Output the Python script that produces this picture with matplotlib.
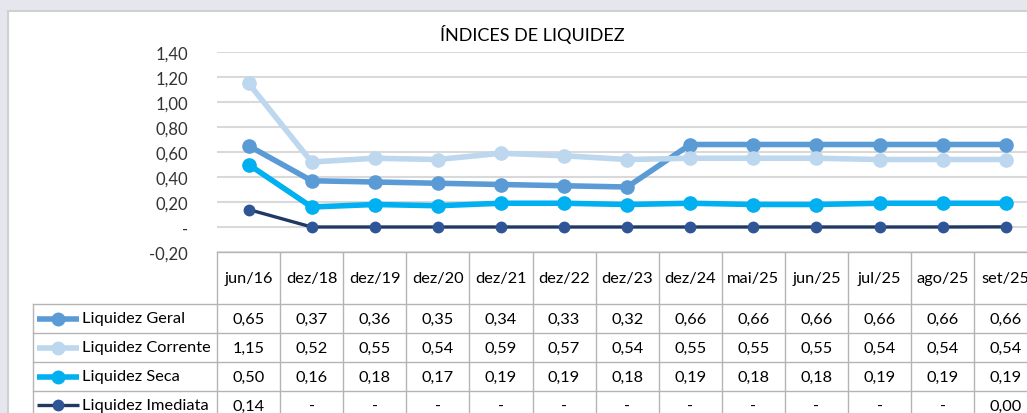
import matplotlib
matplotlib.use('Agg')
import matplotlib.pyplot as plt
from matplotlib.patches import Rectangle

plt.rcParams['font.family'] = ['Lato', 'DejaVu Sans']

categories = ['jun/16', 'dez/18', 'dez/19', 'dez/20', 'dez/21', 'dez/22', 'dez/23',
              'dez/24', 'mai/25', 'jun/25', 'jul/25', 'ago/25', 'set/25']
liq_geral = [0.65, 0.37, 0.36, 0.35, 0.34, 0.33, 0.32, 0.66, 0.66, 0.66, 0.66, 0.66, 0.66]
liq_corrente = [1.15, 0.52, 0.55, 0.54, 0.59, 0.57, 0.54, 0.55, 0.55, 0.55, 0.54, 0.54, 0.54]
liq_seca = [0.50, 0.16, 0.18, 0.17, 0.19, 0.19, 0.18, 0.19, 0.18, 0.18, 0.19, 0.19, 0.19]
liq_imediata = [0.14, 0, 0, 0, 0, 0, 0, 0, 0, 0, 0, 0, 0.001]

series = [
    ('Liquidez Geral', liq_geral, '#5B9BD5', '#5B9BD5', 4.0),
    ('Liquidez Corrente', liq_corrente, '#BDD7EE', '#BDD7EE', 4.0),
    ('Liquidez Seca', liq_seca, '#00B0F0', '#00B0F0', 4.0),
    ('Liquidez Imediata', liq_imediata, '#1F3864', '#2F5597', 2.4),
]

W, H = 1027, 414
fig = plt.figure(figsize=(W / 100, H / 100), dpi=100)
fig.patch.set_facecolor('#E6E6EF')

# pixel layout
col_w = 63.1
col0 = 217
leg_x = 33
head_top, head_bot, row_h = 253, 305, 29
y_top, y_bot = 53, 253


def fmt(v):
    if v == 0:
        return '-'
    return f'{v:.2f}'.replace('.', ',')


bg = fig.add_axes([0, 0, 1, 1])
bg.set_xlim(0, W)
bg.set_ylim(H, 0)
bg.axis('off')
bg.add_patch(Rectangle((8, 12), W, H, facecolor='white', edgecolor='#D0D0D0', lw=1.5))
bg.text(532, 35, 'ÍNDICES DE LIQUIDEZ', fontsize=13, ha='center', va='center', color='#000000')

# line chart
ax = fig.add_axes([col0 / W, 1 - y_bot / H, 13 * col_w / W, (y_bot - y_top) / H])
ax.patch.set_alpha(0)
ax.set_xlim(-0.5, len(categories) - 0.5)
ax.set_ylim(-0.2, 1.4)
ax.set_yticks([-0.2, 0, 0.2, 0.4, 0.6, 0.8, 1.0, 1.2, 1.4])
ax.set_yticklabels([fmt(round(t, 2)) for t in ax.get_yticks()])
ax.tick_params(axis='y', length=0, pad=21, labelsize=12, labelcolor='#333333')
ax.set_xticks([])
ax.grid(axis='y', color='#D9D9D9', lw=1.5)
ax.set_axisbelow(True)
for s in ax.spines.values():
    s.set_visible(False)
x = list(range(len(categories)))
for name, vals, lc, mc, lw in series:
    ms = 9.5 if lw > 3 else 7.5
    ax.plot(x, vals, color=lc, lw=lw, marker='o', ms=ms, mfc=mc, mec=mc, zorder=3)

# data table
right = col0 + 13 * col_w
grid_c = '#B4B4B4'
bg.plot([col0, right], [head_top, head_top], color=grid_c, lw=1)
for i in range(len(categories) + 1):
    xe = col0 + i * col_w
    bg.plot([xe, xe], [head_top, H], color=grid_c, lw=1)
bg.plot([leg_x, leg_x], [head_bot, H], color=grid_c, lw=1)
for r in range(len(series) + 1):
    ye = head_bot + r * row_h
    bg.plot([leg_x, right], [ye, ye], color=grid_c, lw=1)

for i, c in enumerate(categories):
    bg.text(col0 + (i + 0.5) * col_w, (head_top + head_bot) / 2, c,
            fontsize=11.8, ha='center', va='center', color='#000000')

for r, (name, vals, lc, mc, lw) in enumerate(series):
    yc = head_bot + (r + 0.5) * row_h
    bg.plot([37, 79], [yc, yc], color=lc, lw=lw, solid_capstyle='butt')
    bg.plot([58], [yc], marker='o', ms=9 if lw > 3 else 7.5, color=mc)
    bg.text(82, yc, name, fontsize=11.8, ha='left', va='center', color='#000000')
    for i, v in enumerate(vals):
        bg.text(col0 + (i + 0.5) * col_w, yc, fmt(v), fontsize=11.8,
                ha='center', va='center', color='#000000')

fig.savefig('out.png', dpi=100)
